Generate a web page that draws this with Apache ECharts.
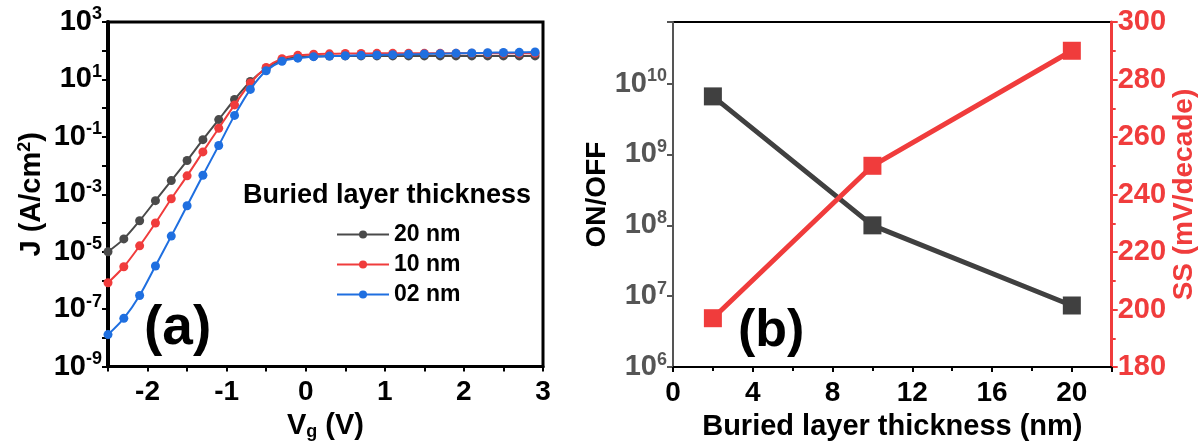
<!DOCTYPE html>
<html><head><meta charset="utf-8">
<script src="https://cdn.jsdelivr.net/npm/echarts@6/dist/echarts.min.js"></script>
<style>html,body{margin:0;padding:0;background:#fff}#c{width:1199px;height:446px}</style>
</head><body><div id="c"></div>
<script>
// Panel (a) data
const vg = [-2.5,-2.3,-2.1,-1.9,-1.7,-1.5,-1.3,-1.1,-0.9,-0.7,-0.5,-0.3,-0.1,0.1,0.3,0.5,0.7,0.9,1.1,1.3,1.5,1.7,1.9,2.1,2.3,2.5,2.7,2.9];
const j20 = [1e-5,2.8e-5,1.2e-4,6e-4,3e-3,1.5e-2,8e-2,0.4,2.0,8.5,24,47,60,64,65,66,66,66,66,66,66,66,66,66,66,66,66,66];
const j10 = [8.3e-7,3e-6,1.6e-5,1e-4,7e-4,4.4e-3,3e-2,0.2,1.3,7.5,26,53,69,75,78,80,80,81,81,81,81,81,81,81,81,81,81,81];
const j02 = [1.3e-8,4.8e-8,3e-7,3.2e-6,3.5e-5,4e-4,4.6e-3,5e-2,0.56,4.5,20,43,55,62,65,67,69,71,73,75,77,79,81,83,85,87,88,90];
const seriesNames = ['20 nm','10 nm','02 nm'];
// Panel (b) data
const thickness = [2,10,20];
const onOff = [6.6e9,1.0e8,7.4e6];
const ss = [197,250,290];

const BLACK='#4a4a4a', RED='#f03c3c', BLUE='#1f6fe0';
const FONT='Liberation Sans';
function supRichOf(color){
  return {
    b:{fontFamily:FONT,fontWeight:'bold',fontSize:29,color:color},
    s:{fontFamily:FONT,fontWeight:'bold',fontSize:18,color:color,verticalAlign:'top',padding:[0,0,15,0]}
  };
}
function expLabel(v, onlyOdd){
  const e = Math.log10(v);
  const r = Math.round(e);
  if (Math.abs(e-r) > 1e-6) return '';
  if (onlyOdd && Math.abs(r%2)!==1) return '';
  return '{b|10}{s|'+r+'}';
}
const chart = echarts.init(document.getElementById('c'));
chart.setOption({
  animation:false,
  textStyle:{fontFamily:FONT},
  grid:[
    {left:108,top:22,width:435,height:348,show:true,borderColor:'#000',borderWidth:3,backgroundColor:'transparent'},
    {left:673,top:22,width:439,height:348,show:true,borderColor:'#000',borderWidth:2,backgroundColor:'transparent'}
  ],
  legend:{
    data:seriesNames, orient:'vertical', left:331, top:218, itemWidth:52, itemHeight:10, itemGap:7,
    textStyle:{fontFamily:FONT,fontWeight:'bold',fontSize:23,color:'#000'}
  },
  graphic:[
    {type:'text',left:243,top:182,style:{text:'Buried layer thickness',font:'bold 27px "Liberation Sans"',fill:'#000'}},
    {type:'text',left:144,top:301,style:{text:'(a)',font:'bold 55px "Liberation Sans"',fill:'#000'}},
    {type:'text',left:738,top:306,style:{text:'(b)',font:'bold 52px "Liberation Sans"',fill:'#000'}}
  ],
  xAxis:[
    {gridIndex:0,type:'value',min:-2.5,max:3,interval:0.5,
     axisLine:{onZero:false,lineStyle:{color:'#000',width:3}},
     axisTick:{show:true,length:5,lineStyle:{width:2,color:'#000'}},
     splitLine:{show:false},
     axisLabel:{fontFamily:FONT,fontWeight:'bold',fontSize:28,color:'#000',margin:12,
       formatter:v=> (Math.abs(v-Math.round(v))<1e-9 ? String(Math.round(v)) : '')},
     name:'{n|V}{sub|g}{n| (V)}',nameLocation:'middle',nameGap:43,
     nameTextStyle:{rich:{n:{fontFamily:FONT,fontWeight:'bold',fontSize:29,color:'#000'},
       sub:{fontFamily:FONT,fontWeight:'bold',fontSize:18,color:'#000',verticalAlign:'bottom',padding:[12,0,0,0]}}}},
    {gridIndex:1,type:'value',min:0,max:22,interval:4,
     axisLine:{onZero:false,lineStyle:{color:'#000',width:2}},
     axisTick:{show:true,length:5,lineStyle:{width:2,color:'#000'}},
     minorTick:{show:true,splitNumber:2,length:4,lineStyle:{color:'#000',width:2}},
     splitLine:{show:false},
     axisLabel:{fontFamily:FONT,fontWeight:'bold',fontSize:28,color:'#000',margin:12,showMaxLabel:false,
       formatter:v=> (v%4===0 ? String(v) : '')},
     name:'Buried layer thickness (nm)',nameLocation:'middle',nameGap:44,
     nameTextStyle:{fontFamily:FONT,fontWeight:'bold',fontSize:29,color:'#000'}}
  ],
  yAxis:[
    {gridIndex:0,type:'log',logBase:10,min:1e-9,max:1e3,interval:1,
     axisLine:{onZero:false,lineStyle:{color:'#000',width:4}},
     axisTick:{show:true,inside:false,length:6,lineStyle:{width:2,color:'#000'}},
     splitLine:{show:false},
     axisLabel:{margin:6,formatter:v=>expLabel(v,true),rich:supRichOf('#000')},
     name:'{n|J (A/cm}{s|2}{n|)}',nameLocation:'middle',nameGap:60,nameRotate:90,
     nameTextStyle:{rich:{n:{fontFamily:FONT,fontWeight:'bold',fontSize:29,color:'#000'},
       s:{fontFamily:FONT,fontWeight:'bold',fontSize:18,color:'#000',verticalAlign:'top',padding:[0,0,14,0]}}}},
    {gridIndex:1,type:'log',logBase:10,min:1e6,max:7.4e10,
     axisLine:{onZero:false,lineStyle:{color:'#555',width:2}},
     axisTick:{show:true,inside:false,length:6,lineStyle:{width:2,color:'#555'}},
     splitLine:{show:false},
     axisLabel:{margin:6,formatter:v=>expLabel(v,false),rich:supRichOf('#555')},
     name:'ON/OFF',nameLocation:'middle',nameGap:46,nameRotate:90,
     nameTextStyle:{fontFamily:FONT,fontWeight:'bold',fontSize:28,color:'#000'}},
    {gridIndex:1,type:'value',position:'right',min:180,max:300,interval:20,
     axisLine:{show:true,onZero:false,lineStyle:{color:RED,width:3}},
     axisTick:{show:true,inside:false,length:6,lineStyle:{width:2,color:RED}},
     minorTick:{show:true,splitNumber:2,length:4,lineStyle:{color:RED,width:2}},
     splitLine:{show:false},
     axisLabel:{fontFamily:FONT,fontWeight:'bold',fontSize:29,color:RED,margin:6},
     name:'SS (mV/decade)',nameLocation:'middle',nameGap:56,nameRotate:90,
     nameTextStyle:{fontFamily:FONT,fontWeight:'bold',fontSize:28,color:RED}}
  ],
  series:[
    {name:'20 nm',type:'line',xAxisIndex:0,yAxisIndex:0,data:vg.map((x,i)=>[x,j20[i]]),
     smooth:0.3,symbol:'circle',symbolSize:9,lineStyle:{color:BLACK,width:2},itemStyle:{color:BLACK},z:3},
    {name:'10 nm',type:'line',xAxisIndex:0,yAxisIndex:0,data:vg.map((x,i)=>[x,j10[i]]),
     smooth:0.3,symbol:'circle',symbolSize:9,lineStyle:{color:RED,width:2},itemStyle:{color:RED},z:4},
    {name:'02 nm',type:'line',xAxisIndex:0,yAxisIndex:0,data:vg.map((x,i)=>[x,j02[i]]),
     smooth:0.3,symbol:'circle',symbolSize:9,lineStyle:{color:BLUE,width:2},itemStyle:{color:BLUE},z:5},
    {name:'ON/OFF',type:'line',xAxisIndex:1,yAxisIndex:1,data:thickness.map((x,i)=>[x,onOff[i]]),
     symbol:'rect',symbolSize:18,lineStyle:{color:'#404040',width:5},itemStyle:{color:'#404040'}},
    {name:'SS',type:'line',xAxisIndex:1,yAxisIndex:2,data:thickness.map((x,i)=>[x,ss[i]]),
     symbol:'rect',symbolSize:18,lineStyle:{color:RED,width:5},itemStyle:{color:RED}}
  ]
});
</script></body></html>
